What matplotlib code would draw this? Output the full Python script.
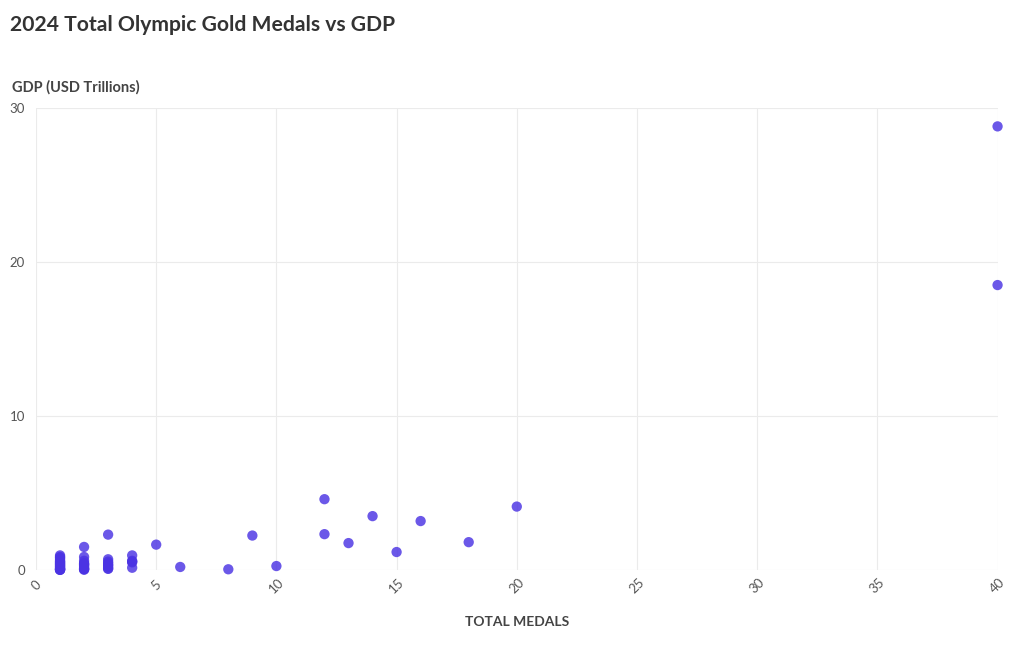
import matplotlib
matplotlib.use("Agg")
import matplotlib.pyplot as plt

plt.rcParams["font.family"] = ["Lato", "DejaVu Sans"]

# gold medals (x) and GDP in USD trillions (y)
medals_1 = [1] * 20
gdp_1 = [0.95, 0.85, 0.8, 0.7, 0.6, 0.55, 0.5, 0.45, 0.4, 0.35,
         0.3, 0.25, 0.2, 0.15, 0.1, 0.07, 0.05, 0.03, 0.02, 0.01]
medals_2 = [2] * 12
gdp_2 = [1.5, 0.85, 0.6, 0.45, 0.4, 0.35, 0.3, 0.2, 0.1, 0.08, 0.05, 0.02]
medals_3 = [3] * 9
gdp_3 = [2.3, 0.7, 0.55, 0.45, 0.35, 0.3, 0.2, 0.1, 0.08]
medals_4 = [4] * 5
gdp_4 = [0.95, 0.6, 0.55, 0.5, 0.15]
medals_rest = [5, 6, 8, 9, 10, 12, 12, 13, 14, 15, 16, 18, 20, 40, 40]
gdp_rest = [1.65, 0.2, 0.05, 2.24, 0.26, 4.6, 2.33, 1.75, 3.5, 1.17, 3.18, 1.81, 4.12, 28.8, 18.5]

x = medals_1 + medals_2 + medals_3 + medals_4 + medals_rest
y = gdp_1 + gdp_2 + gdp_3 + gdp_4 + gdp_rest

fig = plt.figure(figsize=(10.2, 6.5), dpi=100)
ax = fig.add_axes([0.0353, 0.123, 0.9427, 0.711])

ax.scatter(x, y, s=55, color="#4b33e3", alpha=0.82, edgecolors="none", clip_on=False, zorder=3)

ax.set_xlim(0, 40)
ax.set_ylim(0, 30)
ax.set_xticks(range(0, 41, 5))
ax.set_yticks([0, 10, 20, 30])
ax.grid(True, color="#ebebeb", linewidth=0.8)
ax.set_axisbelow(True)
for side in ["top", "right", "left", "bottom"]:
    ax.spines[side].set_visible(False)
ax.tick_params(axis="both", length=0, colors="#555555", labelsize=9.5)
ax.tick_params(axis="y", pad=8)
plt.setp(ax.get_xticklabels(), rotation=45, ha="center", va="center")
ax.tick_params(axis="x", pad=11)

fig.text(0.0098, 0.962, "2024 Total Olympic Gold Medals vs GDP", fontsize=15.2,
         fontweight="bold", color="#333333", va="center")
fig.text(0.0118, 0.866, "GDP (USD Trillions)", fontsize=10.5, fontweight="bold",
         color="#444444", va="center")
fig.text(0.507, 0.043, "TOTAL MEDALS", fontsize=10, fontweight="bold",
         color="#444444", ha="center", va="center")

fig.savefig("out.png", dpi=100)
